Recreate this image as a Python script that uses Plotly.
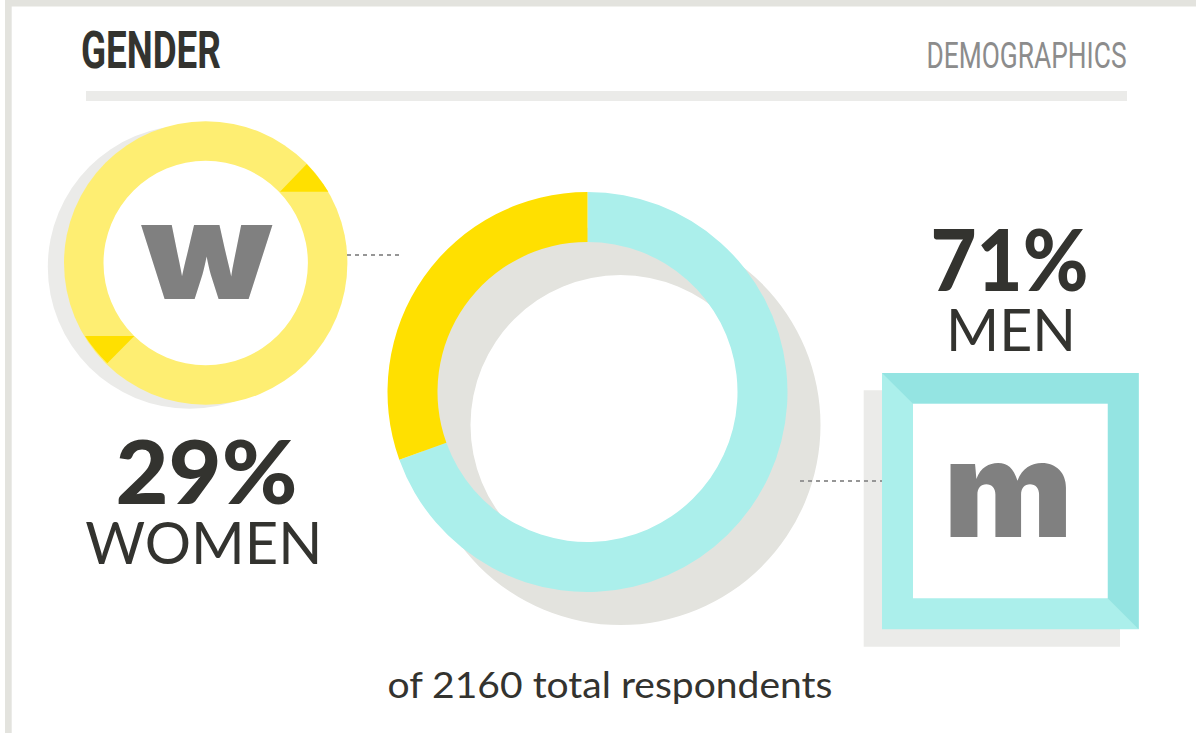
import json
import plotly.graph_objects as go

W, H = 1196, 733

# Text
title = "GENDER"
section = "DEMOGRAPHICS"
categories = ["Men", "Women"]
label_percent = ["71%", "29%"]
label_name = ["MEN", "WOMEN"]
# Shares as the ring is actually drawn in the picture (slice boundary measured)
drawn_share = [69.5, 30.5]
footer = "of 2160 total respondents"

YELLOW = "#FFE000"
PALE_YELLOW = "#FEEE72"
AQUA = "#ABEFEB"
DARK_AQUA = "#94E4E2"
SHADOW = "#E3E3DE"
PALE_SHADOW = "#EBEBE9"
INK = "#33332F"
GREY = "#808080"

# Rendered widths of the texts in the picture (fonts are substitutes)
text_widths = {
    title: 140,
    section: 200,
    "w": 131,
    "m": 129,
    label_percent[1]: 182,
    label_name[1]: 237,
    label_percent[0]: 158,
    label_name[0]: 130,
    footer: 445,
}


def px(x):
    return x / W


def py(y):
    return 1 - y / H


def domain(cx, cy, r):
    return dict(x=[px(cx - r), px(cx + r)], y=[py(cy + r), py(cy - r)])


def rect(x0, y0, x1, y1, color):
    return dict(type="rect", xref="paper", yref="paper", x0=px(x0), x1=px(x1),
                y0=py(y0), y1=py(y1), fillcolor=color, line_width=0)


def circle(cx, cy, r, color):
    return dict(type="circle", xref="paper", yref="paper", x0=px(cx - r), x1=px(cx + r),
                y0=py(cy - r), y1=py(cy + r), fillcolor=color, line_width=0)


def path(d, color):
    out = []
    for cmd, pts in d:
        out.append(cmd + " ".join(f"{px(x):.5f},{py(y):.5f}" for x, y in pts))
    return dict(type="path", xref="paper", yref="paper", path=" ".join(out) + " Z",
                fillcolor=color, line_width=0)


def dash(x0, x1, y):
    return dict(type="line", xref="paper", yref="paper", x0=px(x0), x1=px(x1), y0=py(y), y1=py(y),
                line=dict(color="#969696", width=2, dash="4px,4px"))


def text(x, y, s, size, color, family, weight="normal"):
    return dict(xref="paper", yref="paper", x=px(x), y=py(y), text=s, showarrow=False,
                xanchor="center", yanchor="middle",
                font=dict(size=size, color=color, family=family, weight=weight))


fig = go.Figure()
fig.add_trace(go.Pie(values=[1], hole=0.75, domain=domain(620.5, 425, 200), sort=False,
                     marker=dict(colors=[SHADOW], line_width=0), textinfo="none",
                     hoverinfo="skip", showlegend=False))
fig.add_trace(go.Pie(labels=categories, values=drawn_share, hole=0.75,
                     domain=domain(587.5, 392, 200), sort=False, direction="clockwise", rotation=0,
                     marker=dict(colors=[AQUA, YELLOW], line_width=0), textinfo="none",
                     showlegend=False))

shapes = [
    rect(5, 0, W, 6.5, SHADOW),
    rect(5, 0, 11.7, H, SHADOW),
    rect(86, 91, 1127, 101, PALE_SHADOW),
    circle(189.5, 267, 141.7, PALE_SHADOW),
    circle(205.7, 263, 141.7, PALE_YELLOW),
    circle(205.7, 263, 102.2, "white"),
    path([("M", [(280, 191.7)]), ("L", [(306.7, 164)]), ("Q", [(319, 177), (328.3, 191.7)])], YELLOW),
    path([("M", [(85, 336)]), ("L", [(134.3, 336)]), ("L", [(107.3, 363.3)]), ("Q", [(94, 350), (85, 336)])], YELLOW),
    rect(863.7, 390.3, 1120, 646.7, PALE_SHADOW),
    rect(882, 373, 1138.7, 629.3, AQUA),
    path([("M", [(882, 373)]), ("L", [(1138.7, 373)]), ("L", [(1138.7, 629.3)]), ("L", [(1107.7, 598.3)]),
          ("L", [(1107.7, 403.7)]), ("L", [(913, 403.7)])], DARK_AQUA),
    rect(913, 403.7, 1107.7, 598.3, "white"),
    dash(347, 400, 255),
    dash(800, 882, 481),
]

annotations = [
    text(151, 51, title, 52, INK, "Roboto", "bold"),
    text(1026, 55, section, 37, "#8C8C8C", "Roboto"),
    text(206, 249, "w", 136, GREY, "Inter", 900),
    text(1008, 488, "m", 134, GREY, "Inter", 900),
    text(206, 470, label_percent[1], 88, INK, "Lato", 900),
    text(204, 541, label_name[1], 59, INK, "Lato", 400),
    text(1009, 257, label_percent[0], 86, INK, "Lato", 900),
    text(1011, 328, label_name[0], 59, INK, "Lato", 400),
    text(609.5, 683, footer, 37, INK, "Lato", 400),
]

fig.update_layout(width=W, height=H, margin=dict(l=0, r=0, t=0, b=0), paper_bgcolor="white",
                  shapes=shapes, annotations=annotations)

fit_script = """
document.body.style.margin='0';
var widths = %s;
document.querySelectorAll('.annotation-text').forEach(function (t) {
  var w = widths[t.textContent];
  if (w) { t.setAttribute('textLength', w); t.setAttribute('lengthAdjust', 'spacingAndGlyphs'); }
});
""" % json.dumps(text_widths)

fig.write_html("out.html", config=dict(displayModeBar=False), post_script=fit_script)
